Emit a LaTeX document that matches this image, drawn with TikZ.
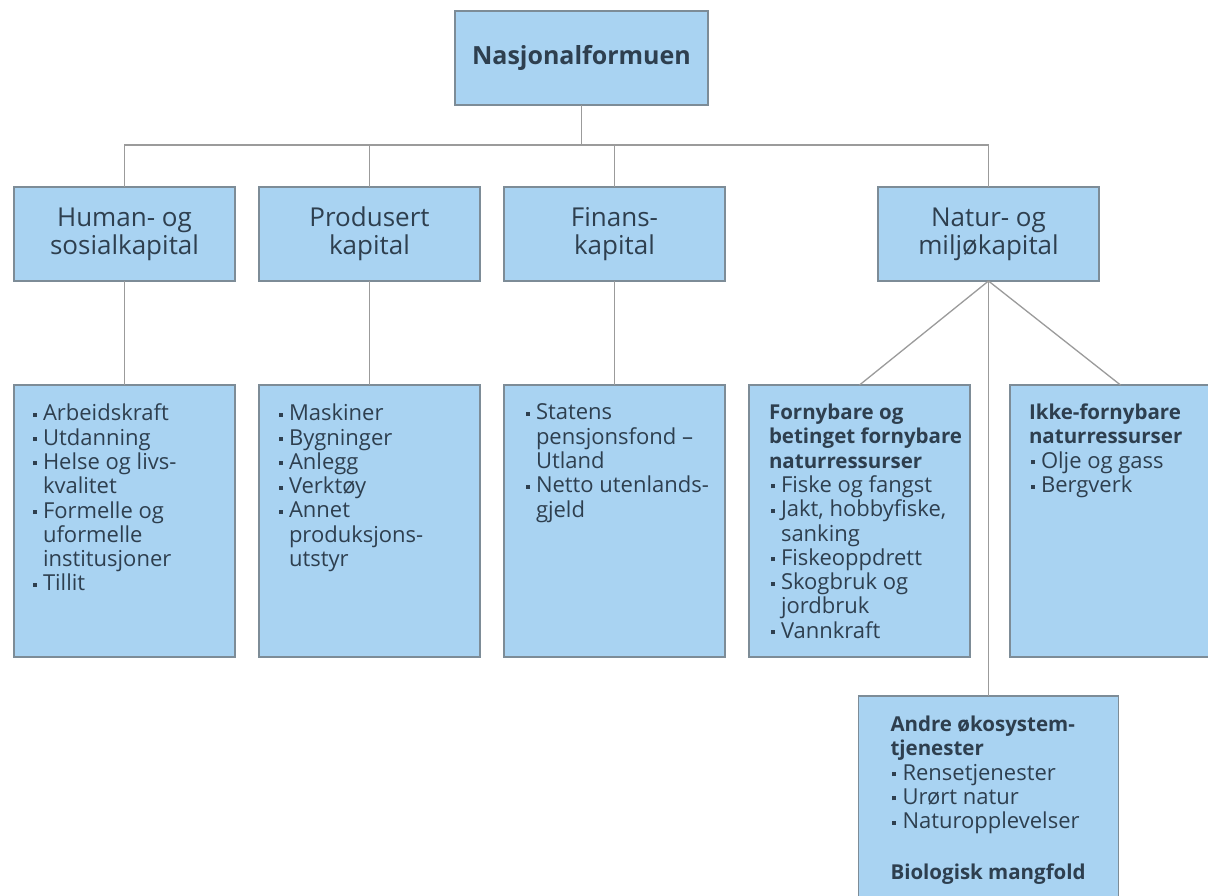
\documentclass[tikz,border=0pt]{standalone}
\usepackage{fontspec}
\setmainfont{Open Sans}
\usetikzlibrary{positioning}
\definecolor{boxblue}{HTML}{A9D3F2}
\definecolor{boxedge}{HTML}{7D8C97}
\definecolor{linegray}{HTML}{9B9B9B}
\definecolor{inktext}{HTML}{2E3F4F}
% bullet, hanging indent of a wrapped bullet line, bold heading line
\newcommand{\bul}{\makebox[12pt][l]{\hspace{1.5pt}\rule[4pt]{4pt}{4pt}}}
\newcommand{\ind}{\hspace*{12pt}}
\newcommand{\hd}[1]{{\fontsize{20.5}{24.3}\selectfont\bfseries #1}}

\begin{document}
\begin{tikzpicture}[x=1pt, y=-1pt, outer sep=0pt,
  box/.style={draw=boxedge, line width=1.2pt, fill=boxblue, inner sep=0pt},
  topbox/.style={box, minimum width=253pt, minimum height=94pt, text=inktext, font=\fontsize{25}{28}\selectfont\bfseries},
  capbox/.style={box, minimum width=221pt, minimum height=94pt, align=center, text=inktext, font=\fontsize{26}{28}\selectfont},
  listbox/.style={box, minimum width=221pt, minimum height=272pt},
  listtext/.style={anchor=north west, inner sep=0pt, align=left, text=inktext, font=\fontsize{22}{24.3}\selectfont},
  link/.style={draw=linegray, line width=1.3pt}]
  \useasboundingbox (0,0) rectangle (1208,895);
  \fill[white] (0,0) rectangle (1208,895);
  \clip (0,0) rectangle (1208,895);

  \node[topbox] (root) at (581.5,58) {Nasjonalformuen};

  \node[capbox] (hum) at (124.5,234) {Human- og\\sosialkapital};
  \node[capbox, right=24pt of hum] (prod) {Produsert\\kapital};
  \node[capbox, right=24pt of prod] (fin) {Finans-\\kapital};
  \node[capbox, right=153pt of fin] (nat) {Natur- og\\miljøkapital};

  \node[listbox, below=104pt of hum] (lhum) {};
  \node[listbox, below=104pt of prod] (lprod) {};
  \node[listbox, below=104pt of fin] (lfin) {};
  \node[listbox, right=24pt of lfin] (lforn) {};
  \node[listbox, right=40pt of lforn] (likke) {};
  \coordinate (andretop) at (nat.south |- lforn.south);
  \node[box, minimum width=260pt, minimum height=215pt, below=39pt of andretop] (landre) {};

  \coordinate (bus) at (root.south |- 0,145);
  \draw[link] (root.south) -- (bus);
  \draw[link] (bus) -| (hum.north);
  \draw[link] (bus) -| (prod.north);
  \draw[link] (bus) -| (fin.north);
  \draw[link] (bus) -| (nat.north);

  \draw[link] (hum.south) -- (lhum.north);
  \draw[link] (prod.south) -- (lprod.north);
  \draw[link] (fin.south) -- (lfin.north);
  \draw[link] (nat.south) -- (lforn.north);
  \draw[link] (nat.south) -- (likke.north);
  \draw[link] (nat.south) -- (landre.north);

  \node[listtext] (thum) at ([xshift=17pt, yshift=-19pt]lhum.north west)
    {\bul Arbeidskraft\\\bul Utdanning\\\bul Helse og livs-\\\ind kvalitet\\\bul Formelle og\\\ind uformelle\\\ind institusjoner\\\bul Tillit};
  \node[listtext] (tprod) at ([xshift=18pt, yshift=-19pt]lprod.north west)
    {\bul Maskiner\\\bul Bygninger\\\bul Anlegg\\\bul Verktøy\\\bul Annet\\\ind produksjons-\\\ind utstyr};
  \node[listtext] (tfin) at ([xshift=20pt, yshift=-19pt]lfin.north west)
    {\bul Statens\\\ind pensjonsfond –\\\ind Utland\\\bul Netto utenlands-\\\ind gjeld};
  \node[listtext] (tforn) at ([xshift=20pt, yshift=-19pt]lforn.north west)
    {\hd{Fornybare og}\\\hd{betinget fornybare}\\\hd{naturressurser}\\\bul Fiske og fangst\\\bul Jakt, hobbyfiske,\\\ind sanking\\\bul Fiskeoppdrett\\\bul Skogbruk og\\\ind jordbruk\\\bul Vannkraft};
  \node[listtext] (tikke) at ([xshift=19pt, yshift=-19pt]likke.north west)
    {\hd{Ikke-fornybare}\\\hd{naturressurser}\\\bul Olje og gass\\\bul Bergverk};
  \node[listtext] (tandre) at ([xshift=32pt, yshift=-20pt]landre.north west)
    {\hd{Andre økosystem-}\\\hd{tjenester}\\\bul Rensetjenester\\\bul Urørt natur\\\bul Naturopplevelser\\[26pt]\hd{Biologisk mangfold}};
\end{tikzpicture}
\end{document}
